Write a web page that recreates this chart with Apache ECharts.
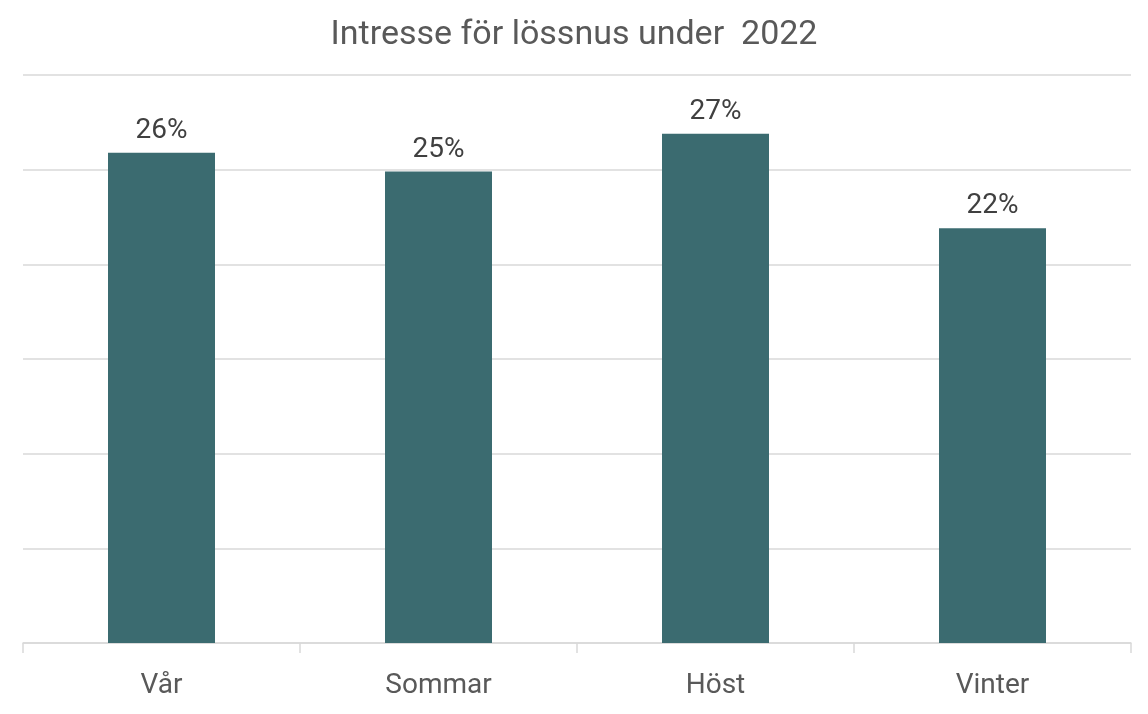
<!DOCTYPE html>
<html>
<head>
<meta charset="utf-8">
<script src="https://cdn.jsdelivr.net/npm/echarts@6/dist/echarts.min.js"></script>
<style>html,body{margin:0;padding:0;background:#fff;}#c{width:1148px;height:714px;}</style>
</head>
<body>
<div id="c"></div>
<script>
const titleText = 'Intresse för lössnus under  2022';
const categories = ['Vår', 'Sommar', 'Höst', 'Vinter'];
const values = [0.259, 0.249, 0.269, 0.219];
const yTicks = [0, 0.05, 0.10, 0.15, 0.20, 0.25, 0.30];

const chart = echarts.init(document.getElementById('c'));
chart.setOption({
  backgroundColor: '#ffffff',
  animation: false,
  title: {
    text: titleText,
    left: 'center',
    top: 13,
    textStyle: { fontFamily: 'Roboto', fontSize: 34, fontWeight: 'normal', color: '#595959' }
  },
  grid: { left: 23, right: 17, top: 75, bottom: 71, containLabel: false },
  xAxis: {
    type: 'category',
    data: categories,
    axisLine: { lineStyle: { color: '#d9d9d9', width: 1.5 } },
    axisTick: { show: true, length: 10, lineStyle: { color: '#d9d9d9', width: 1.5 } },
    axisLabel: { fontFamily: 'Roboto', fontSize: 28, color: '#595959', margin: 29 }
  },
  yAxis: {
    type: 'value',
    min: yTicks[0],
    max: yTicks[yTicks.length - 1],
    interval: 0.05,
    axisLabel: { show: false },
    axisLine: { show: false },
    axisTick: { show: false },
    splitLine: { lineStyle: { color: '#d9d9d9', width: 1.5 } }
  },
  series: [{
    type: 'bar',
    data: values,
    barWidth: 107,
    itemStyle: { color: '#3b6b70' },
    label: {
      show: true,
      position: 'top',
      distance: 8,
      fontFamily: 'Roboto',
      fontSize: 28,
      color: '#404040',
      formatter: p => Math.round(p.value * 100) + '%'
    }
  }]
});
</script>
</body>
</html>
